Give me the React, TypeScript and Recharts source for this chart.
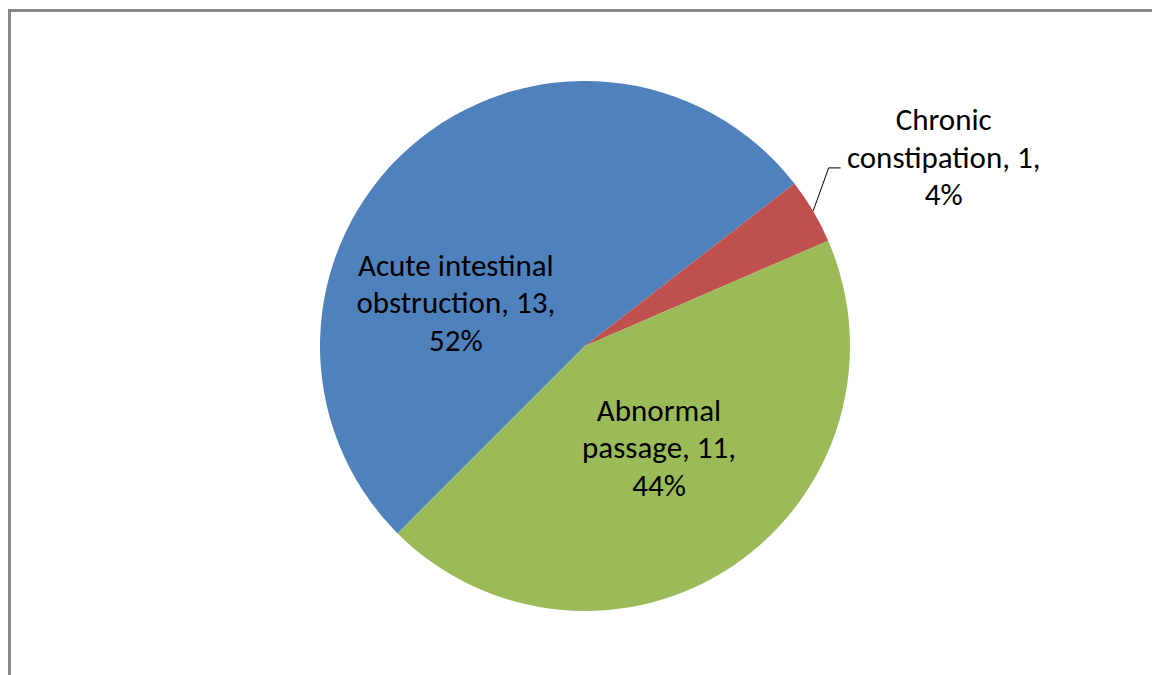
import { PieChart, Pie, Cell } from "recharts";

const CATEGORIES = ["Acute intestinal obstruction", "Chronic constipation", "Abnormal passage"];
const COUNTS = [13, 1, 11];
const COLORS = ["#4F81BD", "#C0504D", "#9BBB59"];

// where Excel put each data label: angle nudge (deg) and distance as a share of the radius
const LABEL_PLACE = [
  { shift: 29.8, k: 0.515, leader: false },
  { shift: -2.8, k: 1.53, leader: true },
  { shift: 2, k: 0.473, leader: false },
];

const RAD = Math.PI / 180;
const FONT = "Calibri, Carlito, Lato, sans-serif";
const LINE_H = 37.5;

const data = CATEGORIES.map((name, i) => ({ name, value: COUNTS[i] }));

function wrapLabel(index: number, percent: number) {
  const words = CATEGORIES[index].split(" ");
  const last = words[words.length - 1];
  return [
    words.slice(0, -1).join(" "),
    `${last}, ${COUNTS[index]},`,
    `${Math.round(percent * 100)}%`,
  ];
}

function renderLabel(props: any) {
  const { cx, cy, midAngle, outerRadius, index, percent } = props;
  const place = LABEL_PLACE[index];
  const a = (midAngle + place.shift) * RAD;
  const x = cx + outerRadius * place.k * Math.cos(a);
  const y = cy - outerRadius * place.k * Math.sin(a);
  const lines = wrapLabel(index, percent);

  let leader = null;
  if (place.leader) {
    const m = midAngle * RAD;
    const sx = cx + outerRadius * Math.cos(m);
    const sy = cy - outerRadius * Math.sin(m);
    const endX = x - 103;
    const elbowX = endX - 12;
    const elbowY = y + 11;
    leader = (
      <polyline
        points={`${sx},${sy} ${elbowX},${elbowY} ${endX},${elbowY}`}
        fill="none"
        stroke="#000"
        strokeWidth={1}
      />
    );
  }

  return (
    <g key={`label-${index}`}>
      {leader}
      {lines.map((line, i) => (
        <text
          key={i}
          x={x}
          y={y + (i - 1) * LINE_H}
          textAnchor="middle"
          dominantBaseline="central"
          fontFamily={FONT}
          fontSize={31}
          fill="#000"
        >
          {line}
        </text>
      ))}
    </g>
  );
}

export default function App() {
  return (
    <div
      style={{
        position: "fixed",
        left: 8,
        top: 9,
        width: 1144,
        height: 666,
        borderLeft: "3px solid #878787",
        borderTop: "3px solid #878787",
        background: "#fff",
      }}
    >
      <PieChart width={1141} height={663} margin={{ top: 0, right: 0, bottom: 0, left: 0 }}>
        <Pie
          data={data}
          dataKey="value"
          nameKey="name"
          cx={574}
          cy={334}
          outerRadius={265}
          startAngle={-135}
          endAngle={-495}
          stroke="none"
          labelLine={false}
          label={renderLabel}
          isAnimationActive={false}
        >
          {data.map((_, i) => (
            <Cell key={i} fill={COLORS[i]} />
          ))}
        </Pie>
      </PieChart>
    </div>
  );
}
